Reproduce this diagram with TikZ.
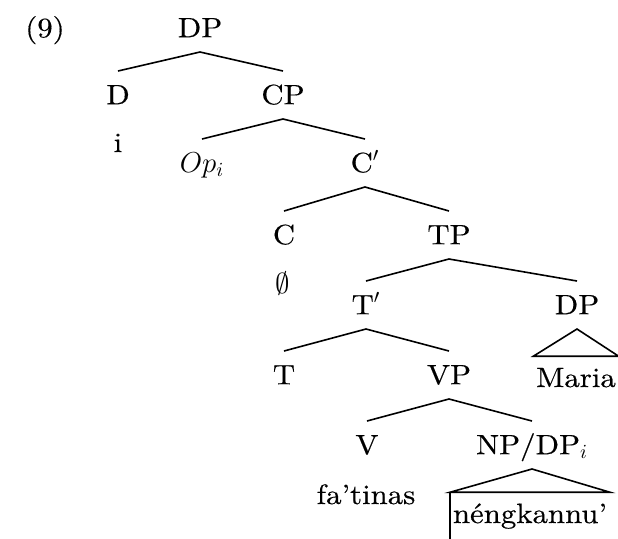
\documentclass[tikz,border=0pt]{standalone}
\usepackage{fontspec}
\setmainfont{lmroman10-regular}[Extension=.otf,FakeStretch=1.1,FakeBold=0.4]
\usepackage{amsmath}
\usepackage{tikz}

\begin{document}
\begin{tikzpicture}[x=0.5pt,y=-0.5pt,line width=0.8pt,
	cat/.style={font=\fontsize{14}{17}\selectfont,text height=9.2pt,text depth=0pt,inner xsep=1pt,inner ysep=7pt},
	word/.style={font=\fontsize{14}{17}\selectfont,anchor=base,text height=9.5pt,text depth=2pt,inner xsep=1pt,inner ysep=5.5pt}]
			\useasboundingbox (0,0) rectangle (618,538);
			\node[cat] (ex) at (45,28) {(9)};
			\node[cat] (dp) at (200,28) {DP};
			\node[cat] (d) at (118,95) {D};
			\node[cat] (cp) at (283,95) {CP};
			\node[word] (i) at (118,152) {i};
			\node[cat] (op) at (202,163) {$Op_i$};
			\node[cat] (cbar) at (365,163) {C$'$};
			\node[cat] (c) at (284,235) {C};
			\node[cat] (tp) at (449,235) {TP};
			\node[cat] (null) at (283,284) {$\emptyset$};
			\node[cat] (tbar) at (366,305) {T$'$};
			\node[cat] (dpb) at (577,305) {DP};
			\node[cat] (t) at (284,375) {T};
			\node[cat] (vp) at (449,375) {VP};
			\node[word] (maria) at (576,387) {Maria};
			\node[cat] (v) at (367,445) {V};
			\node[cat] (np) at (532,445) {NP/DP$_i$};
			\node[word] (fatinas) at (366,504) {fa’tinas};
			\node[word] (neng) at (530,523) {néngkannu’};
			\draw (dp.south) -- (d.north);
			\draw (dp.south) -- (cp.north);
			\draw (cp.south) -- (op.north);
			\draw (cp.south) -- (cbar.north);
			\draw (cbar.south) -- (c.north);
			\draw (cbar.south) -- (tp.north);
			\draw (tp.south) -- (tbar.north);
			\draw (tp.south) -- (dpb.north);
			\draw (tbar.south) -- (t.north);
			\draw (tbar.south) -- (vp.north);
			\draw (vp.south) -- (v.north);
			\draw (vp.south) -- (np.north);
			\draw (dpb.south) -- (maria.north east) -- (maria.north west) -- cycle;
			\draw (np.south) -- (neng.north east) -- (neng.north west) -- cycle;
			\draw (neng.north west) -- (neng.south west);
		\end{tikzpicture}
\end{document}
